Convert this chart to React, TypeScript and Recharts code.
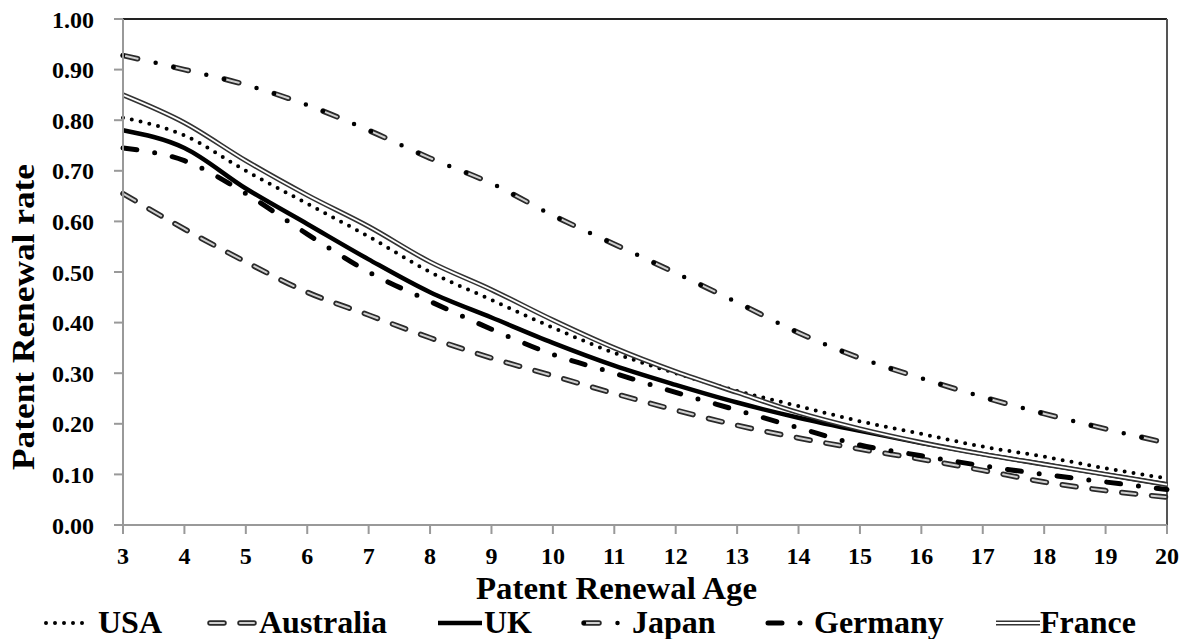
import { CartesianGrid, Label, Line, LineChart, ReferenceLine, XAxis, YAxis } from "recharts"

const ages = [3, 4, 5, 6, 7, 8, 9, 10, 11, 12, 13, 14, 15, 16, 17, 18, 19, 20]

const usa = [0.805, 0.77, 0.7, 0.635, 0.57, 0.5, 0.445, 0.39, 0.34, 0.3, 0.265, 0.235, 0.205, 0.18, 0.155, 0.135, 0.112, 0.092]
const australia = [0.655, 0.585, 0.52, 0.46, 0.415, 0.37, 0.33, 0.295, 0.26, 0.227, 0.197, 0.172, 0.15, 0.13, 0.108, 0.085, 0.068, 0.055]
const uk = [0.78, 0.745, 0.665, 0.595, 0.525, 0.46, 0.41, 0.36, 0.315, 0.277, 0.242, 0.212, 0.186, 0.162, 0.14, 0.12, 0.1, 0.08]
const japan = [0.928, 0.9, 0.87, 0.83, 0.78, 0.725, 0.675, 0.612, 0.555, 0.498, 0.44, 0.38, 0.33, 0.29, 0.253, 0.22, 0.19, 0.162]
const germany = [0.745, 0.72, 0.655, 0.575, 0.5, 0.442, 0.387, 0.337, 0.3, 0.262, 0.227, 0.192, 0.158, 0.137, 0.117, 0.1, 0.085, 0.07]
const france = [0.85, 0.795, 0.72, 0.652, 0.59, 0.52, 0.465, 0.405, 0.35, 0.303, 0.262, 0.222, 0.19, 0.163, 0.14, 0.12, 0.1, 0.08]

const yTicks = [0, 0.1, 0.2, 0.3, 0.4, 0.5, 0.6, 0.7, 0.8, 0.9, 1.0]

const data = ages.map((age, i) => ({
  age,
  usa: usa[i],
  australia: australia[i],
  uk: uk[i],
  japan: japan[i],
  germany: germany[i],
  france: france[i],
}))

const FONT = "'Liberation Serif', 'Times New Roman', serif"
const DARK = "#2a2a2a"
const LIGHT = "#cfcfcf"

// line looks, shared by the plot and the legend samples
const dotted = { stroke: "#000", strokeWidth: 4, strokeDasharray: "0 9", strokeLinecap: "round" as const }
const ausOuter = { stroke: DARK, strokeWidth: 5.5, strokeDasharray: "14 16", strokeLinecap: "round" as const }
const ausInner = { stroke: LIGHT, strokeWidth: 2, strokeDasharray: "14 16", strokeLinecap: "round" as const }
const ukSolid = { stroke: "#000", strokeWidth: 4.5 }
const japOuter = { stroke: DARK, strokeWidth: 5.5, strokeDasharray: "15 37", strokeLinecap: "round" as const }
const japInner = { stroke: LIGHT, strokeWidth: 2, strokeDasharray: "15 37", strokeLinecap: "round" as const }
const japDots = { stroke: "#000", strokeWidth: 4.5, strokeDasharray: "0 33.5 0 18.5", strokeLinecap: "round" as const }
const gerDash = { stroke: "#000", strokeWidth: 5, strokeDasharray: "14 18 0 18", strokeLinecap: "round" as const }
const frOuter = { stroke: "#333", strokeWidth: 5 }
const frInner = { stroke: "#fff", strokeWidth: 1.8 }

function XTitle() {
  return (
    <text
      x={476}
      y={599}
      textLength={281}
      lengthAdjust="spacingAndGlyphs"
      fontFamily={FONT}
      fontWeight="bold"
      fontSize={32}
      fill="#000"
    >
      Patent Renewal Age
    </text>
  )
}

function YTitle() {
  return (
    <text
      transform="translate(34, 470) rotate(-90)"
      textLength={306}
      lengthAdjust="spacingAndGlyphs"
      fontFamily={FONT}
      fontWeight="bold"
      fontSize={32}
      fill="#000"
    >
      Patent Renewal rate
    </text>
  )
}

function LegendSample({ x, styles }: { x: number; styles: any[] }) {
  return (
    <g>
      {styles.map((s, i) => (
        <line key={i} x1={x} x2={x + 44} y1={23} y2={23} fill="none" {...s} />
      ))}
    </g>
  )
}

const legendItems = [
  { name: "USA", sample: 46, text: 98, styles: [dotted] },
  { name: "Australia", sample: 210, text: 259, styles: [ausOuter, ausInner] },
  { name: "UK", sample: 438, text: 484, styles: [ukSolid] },
  { name: "Japan", sample: 584, text: 632, styles: [japOuter, japInner, japDots] },
  { name: "Germany", sample: 768, text: 814, styles: [gerDash] },
  { name: "France", sample: 996, text: 1040, styles: [frOuter, frInner] },
]

export default function App() {
  const tickStyle = { fontFamily: FONT, fontWeight: "bold", fontSize: 24, fill: "#000" }
  return (
    <div style={{ position: "absolute", left: 0, top: 0, width: 1181, height: 639, background: "#fff" }}>
      <LineChart width={1181} height={639} data={data} margin={{ top: 19, right: 14, bottom: 0, left: 0 }}>
        <CartesianGrid horizontal={false} vertical={false} />
        <XAxis
          dataKey="age"
          type="number"
          domain={[3, 20]}
          ticks={ages}
          interval={0}
          height={114}
          stroke="#999"
          strokeWidth={2}
          tickSize={9}
          tickMargin={13}
          tick={tickStyle}
        >
          <Label content={<XTitle />} />
        </XAxis>
        <YAxis
          type="number"
          domain={[0, 1]}
          ticks={yTicks}
          width={123}
          stroke="#999"
          strokeWidth={2}
          tickSize={9}
          tickMargin={20}
          tick={tickStyle}
          tickFormatter={(v: number) => v.toFixed(2)}
        >
          <Label content={<YTitle />} />
        </YAxis>
        <ReferenceLine y={1} stroke="#222" strokeWidth={2} />
        <ReferenceLine x={20} stroke="#555" strokeWidth={2} />

        <Line type="monotone" dataKey="japan" dot={false} activeDot={false} isAnimationActive={false} {...japOuter} />
        <Line type="monotone" dataKey="japan" dot={false} activeDot={false} isAnimationActive={false} {...japInner} />
        <Line type="monotone" dataKey="japan" dot={false} activeDot={false} isAnimationActive={false} {...japDots} />
        <Line type="monotone" dataKey="australia" dot={false} activeDot={false} isAnimationActive={false} {...ausOuter} />
        <Line type="monotone" dataKey="australia" dot={false} activeDot={false} isAnimationActive={false} {...ausInner} />
        <Line type="monotone" dataKey="germany" dot={false} activeDot={false} isAnimationActive={false} {...gerDash} />
        <Line type="monotone" dataKey="uk" dot={false} activeDot={false} isAnimationActive={false} {...ukSolid} />
        <Line type="monotone" dataKey="usa" dot={false} activeDot={false} isAnimationActive={false} {...dotted} />
        <Line type="monotone" dataKey="france" dot={false} activeDot={false} isAnimationActive={false} {...frOuter} />
        <Line type="monotone" dataKey="france" dot={false} activeDot={false} isAnimationActive={false} {...frInner} />
      </LineChart>

      <svg width={1181} height={39} style={{ position: "absolute", left: 0, top: 600 }}>
        {legendItems.map((item) => (
          <g key={item.name}>
            <LegendSample x={item.sample} styles={item.styles} />
            <text x={item.text} y={33} fontFamily={FONT} fontWeight="bold" fontSize={32} fill="#000">
              {item.name}
            </text>
          </g>
        ))}
      </svg>
    </div>
  )
}
